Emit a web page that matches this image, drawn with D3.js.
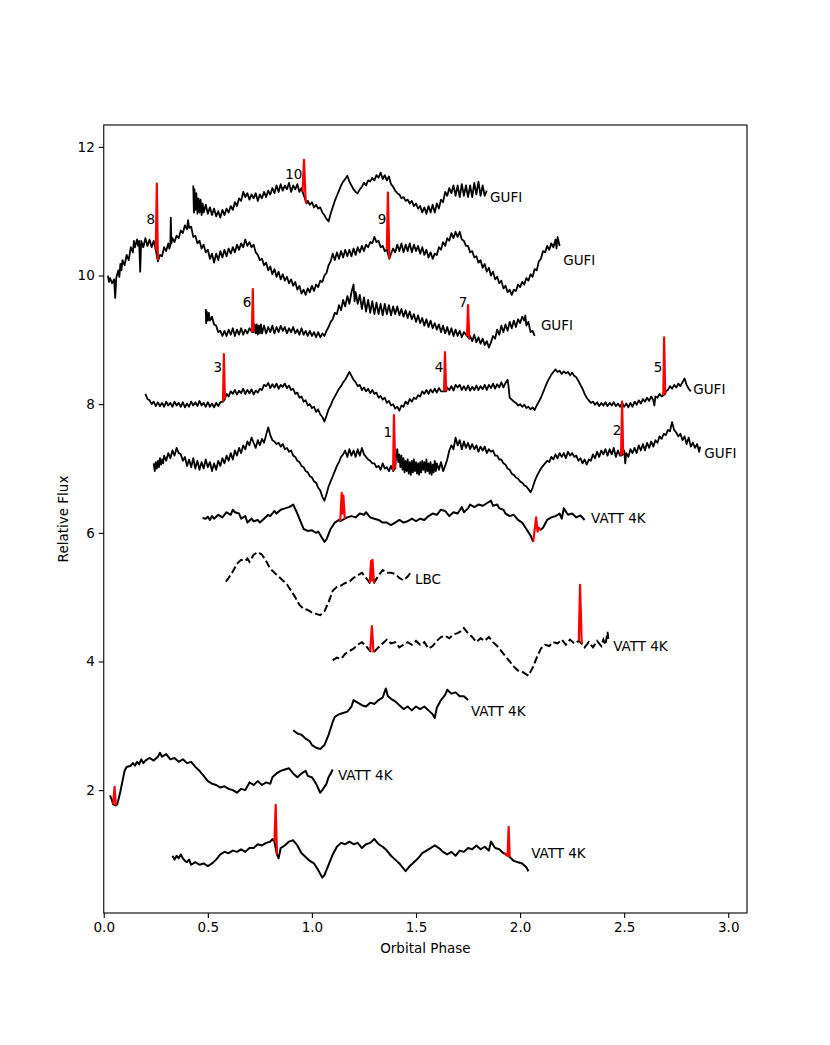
<!DOCTYPE html>
<html><head><meta charset="utf-8">
<script src="https://cdn.jsdelivr.net/npm/d3@7"></script>
<style>body{margin:0;background:#fff}text{font-family:"DejaVu Sans",sans-serif}</style>
</head><body>
<svg id="c" width="830" height="1045"></svg>
<script>
// ---- data: [orbital phase, relative flux] ----
const gufi1 = [[0.43,11.40],[0.433,10.98],[0.436,11.34],[0.44,11.02],[0.445,11.28],[0.45,10.96],[0.455,11.20],[0.46,10.98],[0.465,11.18],[0.47,10.94],[0.475,11.12],[0.48,10.98],[0.49,11.10],[0.50,10.96],[0.51,11.06],[0.52,10.94],[0.53,11.04],[0.54,10.92],[0.55,11.00],[0.56,10.90],[0.57,11.02],[0.58,10.94],[0.59,11.04],[0.60,10.98],[0.61,11.08],[0.62,11.02],[0.63,11.14],[0.64,11.08],[0.65,11.20],[0.66,11.16],[0.67,11.30],[0.68,11.22],[0.69,11.28],[0.70,11.18],[0.71,11.26],[0.72,11.20],[0.73,11.28],[0.74,11.16],[0.75,11.26],[0.76,11.20],[0.77,11.30],[0.78,11.22],[0.79,11.32],[0.80,11.26],[0.81,11.36],[0.82,11.28],[0.83,11.40],[0.84,11.30],[0.85,11.42],[0.86,11.32],[0.87,11.40],[0.88,11.34],[0.89,11.44],[0.90,11.30],[0.91,11.40],[0.92,11.34],[0.93,11.42],[0.94,11.30],[0.95,11.36],[0.955,11.30],[0.975,11.12],[0.98,11.16],[0.99,11.10],[1.00,11.14],[1.01,11.06],[1.02,11.10],[1.03,11.04],[1.04,11.06],[1.05,10.98],[1.06,10.94],[1.07,10.88],[1.08,10.84],[1.09,10.96],[1.10,11.06],[1.11,11.16],[1.12,11.24],[1.13,11.32],[1.14,11.40],[1.15,11.46],[1.16,11.50],[1.17,11.55],[1.18,11.46],[1.19,11.40],[1.20,11.34],[1.21,11.30],[1.22,11.28],[1.23,11.34],[1.24,11.38],[1.25,11.44],[1.26,11.40],[1.27,11.48],[1.28,11.46],[1.29,11.52],[1.30,11.48],[1.31,11.56],[1.32,11.52],[1.33,11.60],[1.34,11.50],[1.35,11.56],[1.36,11.48],[1.37,11.54],[1.38,11.42],[1.39,11.38],[1.40,11.32],[1.41,11.28],[1.42,11.26],[1.43,11.20],[1.44,11.22],[1.45,11.16],[1.46,11.18],[1.47,11.12],[1.48,11.16],[1.49,11.08],[1.50,11.12],[1.51,11.04],[1.52,11.08],[1.53,10.98],[1.54,11.06],[1.55,10.96],[1.56,11.08],[1.57,10.98],[1.58,11.10],[1.59,10.98],[1.60,11.12],[1.61,11.04],[1.62,11.18],[1.63,11.14],[1.64,11.30],[1.65,11.24],[1.66,11.36],[1.67,11.28],[1.68,11.40],[1.69,11.24],[1.70,11.40],[1.71,11.22],[1.72,11.42],[1.73,11.24],[1.74,11.40],[1.75,11.22],[1.76,11.40],[1.77,11.22],[1.78,11.44],[1.79,11.26],[1.80,11.46],[1.81,11.24],[1.82,11.40],[1.83,11.24],[1.84,11.32]];
const gufi2 = [[0.02,10.00],[0.025,9.90],[0.03,9.96],[0.04,9.88],[0.05,9.94],[0.055,9.65],[0.06,9.96],[0.07,10.08],[0.075,9.98],[0.08,10.18],[0.085,10.08],[0.09,10.24],[0.10,10.16],[0.11,10.32],[0.12,10.24],[0.13,10.44],[0.14,10.36],[0.145,10.54],[0.15,10.44],[0.16,10.56],[0.165,10.46],[0.17,10.54],[0.175,10.06],[0.18,10.54],[0.19,10.44],[0.20,10.58],[0.21,10.46],[0.22,10.56],[0.23,10.44],[0.24,10.54],[0.25,10.40],[0.26,10.22],[0.27,10.32],[0.28,10.30],[0.29,10.44],[0.30,10.38],[0.31,10.50],[0.315,10.42],[0.32,10.48],[0.322,10.90],[0.325,10.50],[0.33,10.58],[0.34,10.52],[0.35,10.62],[0.36,10.58],[0.37,10.70],[0.38,10.66],[0.39,10.78],[0.40,10.72],[0.405,10.86],[0.41,10.74],[0.42,10.76],[0.43,10.60],[0.44,10.62],[0.45,10.50],[0.46,10.54],[0.47,10.42],[0.48,10.48],[0.49,10.36],[0.50,10.40],[0.51,10.26],[0.52,10.34],[0.53,10.20],[0.54,10.34],[0.55,10.24],[0.56,10.38],[0.57,10.28],[0.58,10.40],[0.59,10.30],[0.60,10.42],[0.61,10.34],[0.62,10.44],[0.63,10.36],[0.64,10.48],[0.65,10.40],[0.66,10.50],[0.67,10.44],[0.68,10.56],[0.69,10.46],[0.70,10.52],[0.71,10.44],[0.72,10.48],[0.73,10.36],[0.74,10.32],[0.75,10.24],[0.76,10.26],[0.77,10.16],[0.78,10.20],[0.79,10.08],[0.80,10.14],[0.81,10.02],[0.82,10.10],[0.83,9.98],[0.84,10.06],[0.85,9.94],[0.86,10.02],[0.87,9.92],[0.88,9.98],[0.89,9.88],[0.90,9.94],[0.91,9.84],[0.92,9.90],[0.93,9.78],[0.94,9.84],[0.95,9.72],[0.96,9.78],[0.97,9.70],[0.98,9.80],[0.99,9.74],[1.00,9.84],[1.01,9.76],[1.02,9.86],[1.03,9.82],[1.04,9.92],[1.05,9.90],[1.06,10.00],[1.07,10.04],[1.08,10.16],[1.09,10.22],[1.10,10.34],[1.11,10.24],[1.12,10.36],[1.13,10.26],[1.14,10.38],[1.15,10.28],[1.16,10.40],[1.17,10.30],[1.18,10.40],[1.19,10.30],[1.20,10.42],[1.21,10.32],[1.22,10.44],[1.23,10.36],[1.24,10.46],[1.25,10.38],[1.26,10.48],[1.27,10.44],[1.28,10.52],[1.29,10.50],[1.30,10.60],[1.31,10.52],[1.32,10.54],[1.33,10.44],[1.34,10.46],[1.35,10.38],[1.36,10.40],[1.372,10.26],[1.38,10.34],[1.39,10.42],[1.40,10.36],[1.41,10.48],[1.42,10.38],[1.43,10.50],[1.44,10.36],[1.45,10.48],[1.46,10.38],[1.47,10.50],[1.48,10.36],[1.49,10.48],[1.50,10.38],[1.51,10.46],[1.52,10.34],[1.53,10.44],[1.54,10.32],[1.55,10.40],[1.56,10.28],[1.57,10.36],[1.58,10.26],[1.59,10.34],[1.60,10.32],[1.61,10.44],[1.62,10.40],[1.63,10.52],[1.64,10.46],[1.65,10.58],[1.66,10.54],[1.67,10.66],[1.68,10.58],[1.69,10.68],[1.70,10.60],[1.71,10.68],[1.72,10.56],[1.73,10.54],[1.74,10.46],[1.75,10.46],[1.76,10.36],[1.77,10.38],[1.78,10.28],[1.79,10.30],[1.80,10.20],[1.81,10.24],[1.82,10.12],[1.83,10.18],[1.84,10.06],[1.85,10.12],[1.86,10.00],[1.87,10.06],[1.88,9.94],[1.89,9.98],[1.90,9.88],[1.91,9.92],[1.92,9.80],[1.93,9.84],[1.94,9.74],[1.95,9.78],[1.96,9.70],[1.97,9.78],[1.98,9.76],[1.99,9.86],[2.00,9.82],[2.01,9.90],[2.02,9.86],[2.03,9.96],[2.04,9.92],[2.05,10.02],[2.06,9.98],[2.07,10.10],[2.08,10.08],[2.09,10.22],[2.10,10.26],[2.11,10.38],[2.12,10.36],[2.13,10.46],[2.14,10.40],[2.15,10.50],[2.16,10.44],[2.17,10.56],[2.175,10.42],[2.18,10.60],[2.19,10.46]];
const gufi3 = [[0.49,9.48],[0.492,9.26],[0.495,9.44],[0.50,9.30],[0.505,9.42],[0.51,9.30],[0.52,9.36],[0.53,9.24],[0.54,9.22],[0.55,9.12],[0.56,9.14],[0.57,9.06],[0.58,9.14],[0.59,9.06],[0.60,9.16],[0.61,9.08],[0.62,9.18],[0.63,9.06],[0.64,9.16],[0.65,9.08],[0.66,9.18],[0.67,9.08],[0.68,9.16],[0.69,9.10],[0.70,9.18],[0.712,9.12],[0.72,9.12],[0.725,9.24],[0.73,9.10],[0.735,9.24],[0.74,9.08],[0.745,9.22],[0.75,9.10],[0.755,9.24],[0.76,9.10],[0.77,9.22],[0.78,9.10],[0.79,9.20],[0.80,9.12],[0.81,9.22],[0.82,9.10],[0.83,9.20],[0.84,9.12],[0.85,9.22],[0.86,9.14],[0.87,9.20],[0.88,9.10],[0.89,9.18],[0.90,9.12],[0.91,9.20],[0.92,9.10],[0.93,9.16],[0.94,9.08],[0.95,9.18],[0.96,9.08],[0.97,9.14],[0.98,9.06],[0.99,9.14],[1.00,9.06],[1.01,9.12],[1.02,9.04],[1.03,9.12],[1.04,9.04],[1.05,9.10],[1.06,9.06],[1.07,9.14],[1.08,9.20],[1.09,9.28],[1.10,9.32],[1.11,9.42],[1.12,9.40],[1.13,9.54],[1.14,9.46],[1.15,9.62],[1.16,9.52],[1.17,9.68],[1.18,9.56],[1.19,9.74],[1.20,9.86],[1.205,9.60],[1.21,9.74],[1.22,9.56],[1.23,9.70],[1.24,9.48],[1.25,9.66],[1.26,9.44],[1.27,9.62],[1.28,9.42],[1.29,9.60],[1.30,9.40],[1.31,9.58],[1.32,9.40],[1.33,9.56],[1.34,9.38],[1.35,9.56],[1.36,9.40],[1.37,9.54],[1.38,9.38],[1.39,9.52],[1.40,9.40],[1.41,9.52],[1.42,9.38],[1.43,9.48],[1.44,9.36],[1.45,9.46],[1.46,9.34],[1.47,9.44],[1.48,9.32],[1.49,9.40],[1.50,9.28],[1.51,9.38],[1.52,9.26],[1.53,9.34],[1.54,9.22],[1.55,9.32],[1.56,9.20],[1.57,9.30],[1.58,9.18],[1.59,9.26],[1.60,9.16],[1.61,9.24],[1.62,9.12],[1.63,9.22],[1.64,9.10],[1.65,9.20],[1.66,9.08],[1.67,9.18],[1.68,9.06],[1.69,9.16],[1.70,9.06],[1.71,9.14],[1.72,9.04],[1.73,9.12],[1.745,9.06],[1.756,9.02],[1.76,9.06],[1.77,8.98],[1.78,9.08],[1.79,8.96],[1.80,9.04],[1.81,8.94],[1.82,9.02],[1.83,8.92],[1.84,8.98],[1.85,8.88],[1.86,8.96],[1.87,9.06],[1.88,9.02],[1.89,9.16],[1.90,9.08],[1.91,9.22],[1.92,9.12],[1.93,9.24],[1.94,9.14],[1.95,9.28],[1.96,9.18],[1.97,9.30],[1.98,9.20],[1.99,9.32],[2.00,9.26],[2.01,9.36],[2.02,9.30],[2.025,9.38],[2.03,9.22],[2.04,9.28],[2.05,9.12],[2.06,9.14],[2.07,9.06]];
const gufi4 = [[0.20,8.16],[0.21,8.08],[0.22,8.06],[0.23,8.00],[0.24,8.04],[0.25,7.97],[0.26,8.03],[0.27,7.97],[0.28,8.02],[0.29,7.96],[0.30,8.04],[0.31,7.98],[0.32,8.02],[0.33,7.96],[0.34,8.04],[0.35,7.98],[0.36,8.02],[0.37,7.96],[0.38,8.03],[0.39,7.95],[0.40,8.01],[0.41,7.96],[0.42,8.04],[0.43,7.98],[0.44,8.03],[0.45,7.97],[0.46,8.05],[0.47,7.98],[0.48,8.02],[0.49,7.96],[0.50,8.03],[0.51,7.96],[0.52,8.01],[0.53,7.95],[0.54,8.02],[0.55,7.97],[0.56,8.03],[0.573,8.04],[0.582,8.08],[0.59,8.16],[0.60,8.12],[0.61,8.20],[0.62,8.16],[0.63,8.22],[0.64,8.15],[0.65,8.21],[0.66,8.17],[0.67,8.24],[0.68,8.16],[0.69,8.22],[0.70,8.17],[0.71,8.23],[0.72,8.15],[0.73,8.21],[0.74,8.18],[0.75,8.24],[0.76,8.22],[0.77,8.30],[0.78,8.28],[0.79,8.33],[0.80,8.25],[0.81,8.31],[0.82,8.26],[0.83,8.32],[0.84,8.24],[0.85,8.30],[0.86,8.27],[0.87,8.32],[0.88,8.25],[0.89,8.29],[0.90,8.22],[0.91,8.24],[0.92,8.16],[0.93,8.18],[0.94,8.10],[0.95,8.12],[0.96,8.04],[0.97,8.06],[0.98,7.98],[0.99,8.00],[1.00,7.94],[1.01,7.96],[1.02,7.88],[1.03,7.92],[1.04,7.84],[1.05,7.80],[1.06,7.73],[1.07,7.82],[1.08,7.92],[1.09,7.98],[1.10,8.06],[1.11,8.12],[1.12,8.18],[1.13,8.24],[1.14,8.28],[1.15,8.34],[1.16,8.38],[1.17,8.44],[1.18,8.50],[1.19,8.44],[1.20,8.38],[1.21,8.34],[1.22,8.28],[1.23,8.30],[1.24,8.22],[1.25,8.26],[1.26,8.20],[1.27,8.24],[1.28,8.17],[1.29,8.22],[1.30,8.16],[1.31,8.18],[1.32,8.10],[1.33,8.13],[1.34,8.07],[1.35,8.10],[1.36,8.02],[1.37,8.05],[1.38,7.98],[1.39,8.00],[1.40,7.93],[1.41,7.96],[1.42,7.90],[1.43,7.98],[1.44,7.96],[1.45,8.04],[1.46,8.00],[1.47,8.08],[1.48,8.04],[1.49,8.10],[1.50,8.08],[1.51,8.14],[1.52,8.12],[1.53,8.20],[1.54,8.16],[1.55,8.22],[1.56,8.16],[1.57,8.23],[1.58,8.18],[1.59,8.24],[1.60,8.18],[1.61,8.25],[1.62,8.20],[1.635,8.20],[1.645,8.20],[1.65,8.26],[1.66,8.22],[1.67,8.28],[1.68,8.21],[1.69,8.30],[1.70,8.26],[1.71,8.30],[1.72,8.22],[1.73,8.28],[1.74,8.22],[1.75,8.29],[1.76,8.21],[1.77,8.27],[1.78,8.22],[1.79,8.29],[1.80,8.22],[1.81,8.28],[1.82,8.23],[1.83,8.30],[1.84,8.22],[1.85,8.30],[1.86,8.25],[1.87,8.32],[1.88,8.24],[1.89,8.31],[1.90,8.26],[1.91,8.34],[1.92,8.26],[1.93,8.33],[1.94,8.38],[1.945,8.26],[1.95,8.10],[1.96,8.07],[1.97,8.04],[1.98,8.02],[1.99,7.98],[2.00,8.00],[2.01,7.96],[2.02,7.99],[2.03,7.94],[2.04,7.96],[2.05,7.92],[2.06,7.95],[2.07,7.91],[2.08,7.98],[2.09,8.04],[2.10,8.10],[2.11,8.18],[2.12,8.26],[2.13,8.34],[2.14,8.40],[2.15,8.46],[2.16,8.50],[2.17,8.54],[2.18,8.50],[2.19,8.52],[2.20,8.47],[2.21,8.51],[2.22,8.48],[2.23,8.50],[2.24,8.45],[2.25,8.49],[2.26,8.44],[2.27,8.42],[2.28,8.36],[2.29,8.30],[2.30,8.24],[2.31,8.16],[2.32,8.10],[2.33,8.06],[2.34,8.02],[2.35,8.04],[2.36,7.99],[2.37,8.03],[2.38,7.97],[2.39,8.02],[2.40,7.98],[2.41,8.03],[2.42,7.97],[2.43,8.02],[2.44,7.98],[2.45,8.03],[2.46,7.97],[2.47,8.01],[2.48,7.96],[2.49,8.02],[2.50,7.96],[2.51,8.01],[2.52,7.95],[2.53,8.02],[2.54,7.96],[2.55,8.04],[2.56,7.99],[2.57,8.06],[2.58,8.01],[2.59,8.08],[2.60,8.04],[2.61,8.10],[2.62,8.05],[2.63,8.12],[2.64,8.06],[2.645,7.98],[2.65,8.12],[2.66,8.10],[2.67,8.16],[2.68,8.12],[2.688,8.14],[2.697,8.16],[2.70,8.20],[2.71,8.22],[2.72,8.28],[2.73,8.24],[2.74,8.30],[2.75,8.26],[2.76,8.32],[2.77,8.28],[2.78,8.34],[2.79,8.40],[2.80,8.30],[2.81,8.24],[2.82,8.20]];
const gufi5 = [[0.24,7.08],[0.245,6.96],[0.25,7.10],[0.255,7.00],[0.26,7.12],[0.265,7.02],[0.27,7.16],[0.275,7.06],[0.28,7.14],[0.285,7.08],[0.29,7.20],[0.30,7.12],[0.31,7.24],[0.32,7.16],[0.33,7.28],[0.34,7.20],[0.35,7.32],[0.36,7.24],[0.37,7.22],[0.38,7.12],[0.39,7.18],[0.40,7.04],[0.41,7.14],[0.42,7.02],[0.43,7.16],[0.44,7.00],[0.45,7.12],[0.46,6.98],[0.47,7.10],[0.48,7.00],[0.49,7.14],[0.50,7.02],[0.51,7.10],[0.52,6.96],[0.53,7.08],[0.54,6.98],[0.55,7.12],[0.56,7.04],[0.57,7.16],[0.58,7.08],[0.59,7.20],[0.60,7.12],[0.61,7.24],[0.62,7.14],[0.63,7.28],[0.64,7.20],[0.65,7.32],[0.66,7.24],[0.67,7.36],[0.68,7.30],[0.69,7.42],[0.70,7.36],[0.71,7.48],[0.72,7.40],[0.73,7.32],[0.74,7.44],[0.75,7.36],[0.76,7.46],[0.77,7.40],[0.78,7.52],[0.79,7.64],[0.80,7.52],[0.81,7.44],[0.82,7.42],[0.83,7.38],[0.84,7.40],[0.85,7.34],[0.86,7.38],[0.87,7.30],[0.88,7.32],[0.89,7.26],[0.90,7.28],[0.91,7.20],[0.92,7.18],[0.93,7.12],[0.94,7.10],[0.95,7.04],[0.96,7.02],[0.97,6.96],[0.98,6.94],[0.99,6.88],[1.00,6.86],[1.01,6.80],[1.02,6.78],[1.03,6.70],[1.04,6.66],[1.05,6.56],[1.06,6.50],[1.07,6.60],[1.08,6.72],[1.09,6.80],[1.10,6.88],[1.11,6.96],[1.12,7.04],[1.13,7.10],[1.14,7.18],[1.15,7.22],[1.16,7.28],[1.17,7.18],[1.18,7.30],[1.19,7.20],[1.20,7.28],[1.21,7.18],[1.22,7.30],[1.23,7.20],[1.24,7.32],[1.25,7.22],[1.26,7.18],[1.27,7.14],[1.28,7.12],[1.29,7.08],[1.30,7.08],[1.31,7.02],[1.32,7.04],[1.33,6.98],[1.34,7.08],[1.35,7.00],[1.36,7.02],[1.37,6.96],[1.38,7.04],[1.39,6.96],[1.40,7.00],[1.405,7.22],[1.41,7.30],[1.415,7.10],[1.42,7.22],[1.425,7.02],[1.43,7.20],[1.435,6.98],[1.44,7.16],[1.445,6.94],[1.45,7.12],[1.455,6.96],[1.46,7.14],[1.465,6.92],[1.47,7.10],[1.475,6.90],[1.48,7.12],[1.485,6.94],[1.49,7.14],[1.495,6.96],[1.50,7.10],[1.505,6.92],[1.51,7.08],[1.515,6.90],[1.52,7.10],[1.525,6.94],[1.53,7.12],[1.535,6.98],[1.54,7.10],[1.545,6.94],[1.55,7.14],[1.555,6.96],[1.56,7.08],[1.565,6.92],[1.57,7.10],[1.575,6.90],[1.58,7.06],[1.585,6.94],[1.59,7.12],[1.595,6.96],[1.60,7.08],[1.61,6.98],[1.62,7.10],[1.63,6.96],[1.64,7.04],[1.65,7.14],[1.66,7.28],[1.67,7.36],[1.68,7.30],[1.69,7.48],[1.70,7.36],[1.71,7.44],[1.72,7.30],[1.73,7.42],[1.74,7.32],[1.75,7.40],[1.76,7.30],[1.77,7.38],[1.78,7.30],[1.79,7.36],[1.80,7.26],[1.81,7.34],[1.82,7.28],[1.83,7.34],[1.84,7.24],[1.85,7.30],[1.86,7.26],[1.87,7.28],[1.88,7.20],[1.89,7.20],[1.90,7.14],[1.91,7.14],[1.92,7.08],[1.93,7.06],[1.94,7.00],[1.95,6.98],[1.96,6.92],[1.97,6.90],[1.98,6.86],[1.99,6.84],[2.00,6.80],[2.01,6.78],[2.02,6.74],[2.03,6.72],[2.04,6.68],[2.05,6.63],[2.06,6.70],[2.07,6.80],[2.08,6.88],[2.09,6.94],[2.10,7.00],[2.11,7.04],[2.12,7.08],[2.13,7.12],[2.14,7.10],[2.15,7.18],[2.16,7.14],[2.17,7.22],[2.18,7.16],[2.19,7.24],[2.20,7.18],[2.21,7.24],[2.22,7.16],[2.23,7.26],[2.24,7.20],[2.25,7.24],[2.26,7.18],[2.27,7.20],[2.28,7.12],[2.29,7.16],[2.30,7.08],[2.31,7.14],[2.32,7.06],[2.33,7.14],[2.34,7.12],[2.35,7.22],[2.36,7.16],[2.37,7.26],[2.38,7.18],[2.39,7.28],[2.40,7.22],[2.41,7.30],[2.42,7.20],[2.43,7.30],[2.44,7.22],[2.45,7.32],[2.46,7.18],[2.47,7.28],[2.48,7.20],[2.485,7.20],[2.495,7.22],[2.50,7.28],[2.505,7.08],[2.51,7.24],[2.52,7.18],[2.53,7.30],[2.54,7.24],[2.55,7.32],[2.56,7.24],[2.57,7.36],[2.58,7.28],[2.59,7.38],[2.60,7.28],[2.61,7.40],[2.62,7.32],[2.63,7.42],[2.64,7.34],[2.65,7.44],[2.66,7.40],[2.67,7.50],[2.68,7.46],[2.69,7.54],[2.70,7.52],[2.71,7.60],[2.72,7.58],[2.73,7.72],[2.74,7.60],[2.75,7.56],[2.76,7.50],[2.77,7.54],[2.78,7.44],[2.79,7.50],[2.80,7.38],[2.81,7.48],[2.82,7.34],[2.83,7.40],[2.84,7.32],[2.85,7.38],[2.86,7.26],[2.865,7.34]];
const vatt1 = [[0.475,6.23],[0.49,6.22],[0.50,6.25],[0.51,6.20],[0.52,6.26],[0.53,6.22],[0.55,6.28],[0.57,6.24],[0.59,6.32],[0.61,6.28],[0.62,6.36],[0.63,6.32],[0.65,6.30],[0.66,6.22],[0.68,6.26],[0.69,6.16],[0.71,6.22],[0.72,6.18],[0.74,6.20],[0.75,6.16],[0.77,6.22],[0.79,6.28],[0.80,6.26],[0.82,6.34],[0.83,6.30],[0.85,6.36],[0.87,6.38],[0.89,6.40],[0.91,6.44],[0.93,6.30],[0.96,6.06],[0.98,6.03],[1.00,6.04],[1.02,6.00],[1.03,6.02],[1.045,5.94],[1.06,5.86],[1.07,5.90],[1.09,6.06],[1.11,6.16],[1.13,6.20],[1.136,6.18],[1.158,6.22],[1.17,6.24],[1.19,6.26],[1.21,6.24],[1.23,6.30],[1.25,6.28],[1.26,6.32],[1.28,6.24],[1.30,6.22],[1.32,6.20],[1.34,6.16],[1.36,6.16],[1.38,6.12],[1.40,6.16],[1.42,6.20],[1.44,6.16],[1.46,6.18],[1.48,6.22],[1.50,6.18],[1.52,6.22],[1.54,6.20],[1.56,6.26],[1.58,6.30],[1.60,6.28],[1.62,6.36],[1.64,6.34],[1.66,6.26],[1.68,6.32],[1.70,6.30],[1.72,6.40],[1.73,6.32],[1.75,6.38],[1.76,6.44],[1.78,6.40],[1.80,6.44],[1.82,6.42],[1.84,6.46],[1.86,6.50],[1.87,6.42],[1.89,6.44],[1.90,6.38],[1.92,6.36],[1.93,6.30],[1.95,6.26],[1.97,6.28],[1.99,6.20],[2.01,6.16],[2.03,6.06],[2.05,5.96],[2.063,5.86]];
const vatt1b = [[2.096,6.04],[2.11,6.08],[2.13,6.20],[2.15,6.24],[2.17,6.26],[2.19,6.30],[2.20,6.22],[2.21,6.38],[2.23,6.28],[2.25,6.30],[2.27,6.24],[2.29,6.27],[2.31,6.20]];
const lbc = [[0.587,5.24],[0.60,5.30],[0.62,5.40],[0.64,5.52],[0.66,5.58],[0.68,5.56],[0.69,5.60],[0.70,5.55],[0.72,5.66],[0.74,5.70],[0.76,5.66],[0.78,5.56],[0.80,5.44],[0.82,5.38],[0.84,5.32],[0.86,5.26],[0.88,5.20],[0.90,5.10],[0.92,5.00],[0.94,4.88],[0.96,4.82],[0.98,4.80],[1.00,4.76],[1.02,4.74],[1.04,4.72],[1.06,4.78],[1.08,4.92],[1.10,5.10],[1.12,5.16],[1.14,5.18],[1.16,5.22],[1.18,5.24],[1.20,5.30],[1.22,5.34],[1.24,5.38],[1.26,5.30],[1.278,5.22],[1.298,5.22],[1.32,5.34],[1.34,5.42],[1.36,5.38],[1.38,5.38],[1.40,5.36],[1.42,5.30],[1.44,5.26],[1.46,5.32],[1.476,5.39]];
const vatt2 = [[1.10,4.02],[1.12,4.06],[1.14,4.04],[1.16,4.12],[1.18,4.16],[1.20,4.20],[1.22,4.26],[1.24,4.30],[1.26,4.24],[1.28,4.16],[1.296,4.14],[1.32,4.22],[1.34,4.28],[1.36,4.34],[1.38,4.28],[1.40,4.30],[1.42,4.22],[1.44,4.26],[1.46,4.30],[1.48,4.26],[1.50,4.32],[1.52,4.26],[1.54,4.30],[1.56,4.20],[1.58,4.24],[1.60,4.32],[1.62,4.38],[1.64,4.40],[1.66,4.36],[1.68,4.42],[1.70,4.44],[1.72,4.48],[1.73,4.52],[1.75,4.44],[1.77,4.38],[1.79,4.30],[1.81,4.36],[1.83,4.32],[1.85,4.38],[1.87,4.30],[1.89,4.24],[1.91,4.16],[1.93,4.08],[1.95,4.00],[1.97,3.92],[1.99,3.86],[2.01,3.84],[2.03,3.80],[2.04,3.78],[2.06,3.90],[2.08,4.06],[2.10,4.20],[2.12,4.26],[2.14,4.24],[2.16,4.30],[2.18,4.28],[2.20,4.34],[2.22,4.26],[2.24,4.34],[2.26,4.28],[2.282,4.32],[2.296,4.28],[2.31,4.22],[2.33,4.30],[2.35,4.22],[2.37,4.32],[2.39,4.24],[2.40,4.34],[2.41,4.26],[2.42,4.46],[2.425,4.32]];
const vatt3 = [[0.91,2.93],[0.93,2.88],[0.95,2.86],[0.97,2.80],[0.99,2.76],[1.00,2.70],[1.02,2.66],[1.04,2.64],[1.06,2.70],[1.08,2.86],[1.10,3.06],[1.11,3.14],[1.13,3.18],[1.15,3.20],[1.17,3.22],[1.19,3.30],[1.20,3.40],[1.22,3.36],[1.24,3.32],[1.26,3.30],[1.28,3.36],[1.30,3.34],[1.32,3.40],[1.34,3.44],[1.355,3.58],[1.365,3.46],[1.38,3.42],[1.40,3.38],[1.42,3.32],[1.44,3.26],[1.46,3.30],[1.48,3.24],[1.50,3.30],[1.52,3.26],[1.54,3.30],[1.56,3.24],[1.58,3.18],[1.59,3.12],[1.60,3.28],[1.62,3.40],[1.64,3.48],[1.65,3.56],[1.67,3.50],[1.69,3.52],[1.71,3.46],[1.73,3.46],[1.75,3.40]];
const vatt4 = [[0.03,1.92],[0.04,1.84],[0.045,1.78],[0.058,1.76],[0.065,1.78],[0.08,1.98],[0.09,2.14],[0.10,2.30],[0.11,2.36],[0.13,2.38],[0.14,2.42],[0.15,2.38],[0.16,2.44],[0.17,2.40],[0.18,2.48],[0.19,2.42],[0.20,2.46],[0.22,2.50],[0.24,2.46],[0.26,2.52],[0.27,2.58],[0.28,2.52],[0.30,2.56],[0.32,2.48],[0.34,2.50],[0.36,2.44],[0.38,2.48],[0.40,2.42],[0.42,2.44],[0.44,2.36],[0.46,2.30],[0.48,2.22],[0.50,2.14],[0.52,2.10],[0.54,2.08],[0.56,2.04],[0.58,2.06],[0.60,2.02],[0.62,2.00],[0.64,1.96],[0.66,2.02],[0.68,2.00],[0.70,2.12],[0.72,2.08],[0.74,2.14],[0.76,2.08],[0.78,2.12],[0.80,2.10],[0.81,2.20],[0.83,2.26],[0.85,2.30],[0.87,2.32],[0.89,2.34],[0.91,2.26],[0.93,2.20],[0.95,2.26],[0.97,2.30],[0.98,2.22],[1.00,2.20],[1.02,2.10],[1.04,1.96],[1.05,2.00],[1.07,2.10],[1.08,2.20],[1.09,2.26],[1.10,2.32]];
const vatt5 = [[0.33,0.98],[0.34,0.92],[0.35,0.98],[0.36,0.94],[0.37,1.00],[0.38,0.94],[0.39,0.90],[0.40,0.88],[0.41,0.92],[0.42,0.84],[0.44,0.88],[0.46,0.84],[0.48,0.86],[0.50,0.82],[0.52,0.86],[0.54,0.92],[0.56,1.00],[0.58,1.04],[0.60,1.02],[0.62,1.06],[0.64,1.04],[0.66,1.08],[0.68,1.04],[0.70,1.10],[0.72,1.10],[0.74,1.16],[0.76,1.14],[0.78,1.18],[0.80,1.20],[0.81,1.24],[0.82,1.20],[0.832,1.00],[0.84,0.94],[0.85,1.10],[0.87,1.14],[0.89,1.20],[0.91,1.22],[0.93,1.14],[0.95,1.02],[0.97,0.96],[0.99,0.90],[1.01,0.86],[1.03,0.76],[1.05,0.64],[1.06,0.68],[1.08,0.84],[1.10,1.00],[1.12,1.12],[1.14,1.18],[1.16,1.16],[1.18,1.20],[1.20,1.16],[1.22,1.18],[1.24,1.10],[1.26,1.16],[1.28,1.18],[1.30,1.24],[1.32,1.16],[1.34,1.12],[1.36,1.06],[1.38,0.98],[1.40,0.92],[1.42,0.86],[1.44,0.78],[1.45,0.74],[1.47,0.82],[1.49,0.88],[1.51,0.94],[1.53,1.02],[1.55,1.06],[1.57,1.10],[1.59,1.14],[1.61,1.10],[1.63,1.04],[1.65,1.00],[1.67,1.04],[1.69,0.98],[1.71,1.06],[1.73,1.04],[1.75,1.10],[1.77,1.08],[1.79,1.14],[1.81,1.08],[1.83,1.12],[1.85,1.06],[1.86,1.20],[1.88,1.10],[1.90,1.08],[1.92,1.02],[1.923,1.02],[1.95,0.96],[1.97,0.90],[1.99,0.88],[2.01,0.86],[2.03,0.80],[2.04,0.74]];

// flare segments (drawn in red)
const flare10 = [[0.955,11.30],[0.962,11.80],[0.970,11.15],[0.975,11.12]];
const flare8 = [[0.250,10.40],[0.255,11.43],[0.260,10.24]];
const flare9 = [[1.360,10.40],[1.365,11.29],[1.372,10.26]];
const flare6 = [[0.712,9.12],[0.716,9.79],[0.720,9.12]];
const flare7 = [[1.745,9.06],[1.750,9.54],[1.756,9.02]];
const flare3 = [[0.573,8.04],[0.577,8.78],[0.582,8.08]];
const flare4 = [[1.635,8.20],[1.639,8.81],[1.645,8.20]];
const flare5 = [[2.688,8.14],[2.692,9.04],[2.697,8.16]];
const flare1 = [[1.390,6.96],[1.394,7.83],[1.400,7.00]];
const flare2 = [[2.485,7.20],[2.490,8.04],[2.495,7.22]];
const flareV1a = [[1.136,6.18],[1.143,6.62],[1.147,6.30],[1.151,6.58],[1.158,6.22]];
const flareV1b = [[2.063,5.86],[2.077,6.24],[2.084,6.02],[2.090,6.08],[2.096,6.04]];
const flareL = [[1.278,5.22],[1.284,5.56],[1.288,5.26],[1.291,5.58],[1.298,5.22]];
const flareV2a = [[1.280,4.16],[1.288,4.55],[1.296,4.14]];
const flareV2b = [[2.282,4.32],[2.288,5.19],[2.296,4.28]];
const flareV4 = [[0.045,1.78],[0.052,2.05],[0.058,1.76]];
const flareV5a = [[0.820,1.20],[0.826,1.77],[0.832,1.00]];
const flareV5b = [[1.923,1.02],[1.940,0.98],[1.945,1.43],[1.950,0.96]];

// curve labels
const curveNames = ["GUFI","GUFI","GUFI","GUFI","GUFI","VATT 4K","LBC","VATT 4K","VATT 4K","VATT 4K","VATT 4K"];
const curveLabelPhase = [1.856,2.207,2.10,2.832,2.885,2.341,1.495,2.447,1.764,1.125,2.053];
const curveLabelFlux = [11.22,10.24,9.23,8.24,7.24,6.23,5.28,4.24,3.23,2.23,1.02];
// flare number labels
const flareNames = ["10","8","9","6","7","3","4","5","1","2"];
const flareLabelPhase = [0.913,0.226,1.337,0.688,1.726,0.548,1.611,2.663,1.365,2.466];
const flareLabelFlux = [11.58,10.88,10.88,9.59,9.58,8.58,8.58,8.58,7.57,7.59];
// axis ticks
const xTicks = [0.0,0.5,1.0,1.5,2.0,2.5,3.0];
const yTicks = [2,4,6,8,10,12];

// ---- drawing ----
const svg = d3.select("#c");
const L = 103.75, R = 747, T = 125, B = 913;
const x = d3.scaleLinear().domain([0, 3.09]).range([L, R]);
const y = d3.scaleLinear().domain([0.09, 12.34]).range([B, T]);
const line = d3.line().x(d => x(d[0])).y(d => y(d[1]));

const gufi = [gufi1, gufi2, gufi3, gufi4, gufi5];
const solid = [vatt1, vatt1b, vatt3, vatt4, vatt5];
const dashed = [lbc, vatt2];
const flares = [flare10, flare8, flare9, flare6, flare7, flare3, flare4, flare5, flare1, flare2,
  flareV1a, flareV1b, flareL, flareV2a, flareV2b, flareV4, flareV5a, flareV5b];

const g = svg.append("g");
gufi.forEach(d => g.append("path").attr("d", line(d)).attr("fill", "none")
  .attr("stroke", "#000").attr("stroke-width", 1.8).attr("stroke-linejoin", "round"));
solid.forEach(d => g.append("path").attr("d", line(d)).attr("fill", "none")
  .attr("stroke", "#000").attr("stroke-width", 2).attr("stroke-linejoin", "round"));
dashed.forEach(d => g.append("path").attr("d", line(d)).attr("fill", "none")
  .attr("stroke", "#000").attr("stroke-width", 2).attr("stroke-dasharray", "7.4,3.2"));
flares.forEach(d => g.append("path").attr("d", line(d)).attr("fill", "none")
  .attr("stroke", "#ff0000").attr("stroke-width", 2.2).attr("stroke-linejoin", "round"));

const fs = 13.5;
curveNames.forEach((t, i) => svg.append("text").attr("x", x(curveLabelPhase[i])).attr("y", y(curveLabelFlux[i]))
  .attr("dy", "0.36em").attr("font-size", fs).attr("fill", "#000").text(t));
flareNames.forEach((t, i) => svg.append("text").attr("x", x(flareLabelPhase[i])).attr("y", y(flareLabelFlux[i]))
  .attr("dy", "0.36em").attr("text-anchor", "middle").attr("font-size", fs).attr("fill", "#000").text(t));

// axes
const xa = svg.append("g").attr("transform", `translate(0,${B})`)
  .call(d3.axisBottom(x).tickValues(xTicks).tickFormat(d3.format(".1f")).tickSize(5).tickPadding(4));
const ya = svg.append("g").attr("transform", `translate(${L},0)`)
  .call(d3.axisLeft(y).tickValues(yTicks).tickFormat(d3.format("d")).tickSize(5).tickPadding(4));
[xa, ya].forEach(a => {
  a.select(".domain").remove();
  a.selectAll("line").attr("stroke", "#000").attr("stroke-width", 1.1);
  a.selectAll("text").attr("font-size", fs).attr("fill", "#000").attr("font-family", "DejaVu Sans");
});
svg.append("rect").attr("x", L).attr("y", T).attr("width", R - L).attr("height", B - T)
  .attr("fill", "none").attr("stroke", "#000").attr("stroke-width", 1.1);

svg.append("text").attr("x", (L + R) / 2).attr("y", 953).attr("text-anchor", "middle")
  .attr("font-size", fs).attr("fill", "#000").text("Orbital Phase");
svg.append("text").attr("transform", `translate(68,${(T + B) / 2}) rotate(-90)`).attr("text-anchor", "middle")
  .attr("font-size", fs).attr("fill", "#000").text("Relative Flux");
</script>
</body></html>
